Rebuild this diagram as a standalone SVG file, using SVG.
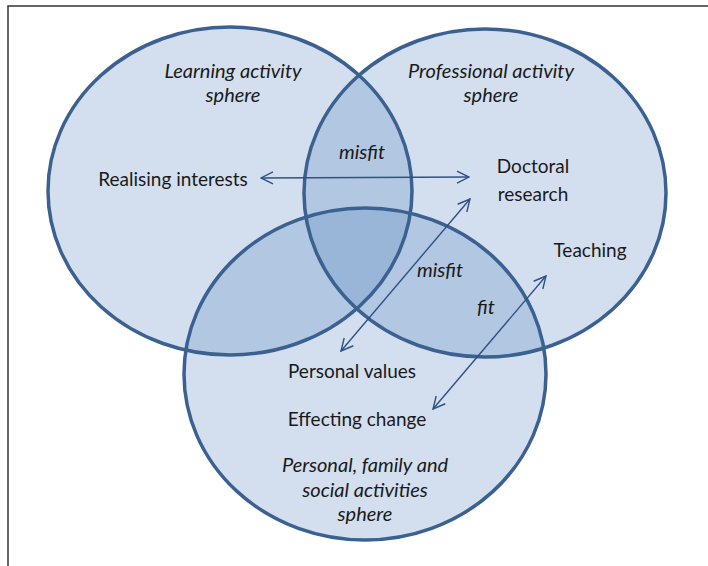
<svg xmlns="http://www.w3.org/2000/svg" width="708" height="566" viewBox="0 0 708 566">
<style>
.sph{fill:#4f81bd;fill-opacity:0.25;stroke:none}
.out{fill:none;stroke:#3b6190;stroke-width:3.5}
text{font-family:Lato,"Open Sans","Liberation Sans",sans-serif;font-size:19px;fill:#1a1a1a;text-anchor:middle}
.it{font-style:italic;font-size:20px}
.con{stroke:#2d5286;stroke-width:1.4;fill:none}
</style>
<defs>
<marker id="ah" viewBox="0 0 14 14" refX="13" refY="7" markerWidth="14" markerHeight="14" markerUnits="userSpaceOnUse" orient="auto-start-reverse">
<path d="M1,1 L13,7 L1,13" fill="none" stroke="#2d5286" stroke-width="1.4"/>
</marker>
</defs>
<rect width="708" height="566" fill="#fff"/>
<path d="M8,566 L8,6 L708,6" fill="none" stroke="#333" stroke-width="1.5"/>
<g id="fills">
<ellipse class="sph" cx="230" cy="191" rx="182" ry="164"/>
<ellipse class="sph" cx="485" cy="193" rx="181" ry="164"/>
<ellipse class="sph" cx="365" cy="374" rx="181" ry="166"/>
</g>
<g id="learning">
<ellipse class="out" cx="230" cy="191" rx="182" ry="164"/>
<text class="it" x="233" y="78">Learning activity</text>
<text class="it" x="233" y="102">sphere</text>
</g>
<g id="professional">
<ellipse class="out" cx="485" cy="193" rx="181" ry="164"/>
<text class="it" x="491" y="78">Professional activity</text>
<text class="it" x="491" y="102">sphere</text>
</g>
<g id="personal">
<ellipse class="out" cx="365" cy="374" rx="181" ry="166"/>
<text class="it" x="365" y="472">Personal, family and</text>
<text class="it" x="365" y="497">social activities</text>
<text class="it" x="365" y="521">sphere</text>
</g>
<g id="realising"><text x="173" y="186">Realising interests</text></g>
<g id="doctoral"><text x="533" y="173">Doctoral</text><text x="533" y="201">research</text></g>
<g id="teaching"><text x="590" y="257">Teaching</text></g>
<g id="values"><text x="352" y="378">Personal values</text></g>
<g id="change"><text x="357" y="426">Effecting change</text></g>
<g id="connectors">
<line class="con" x1="261" y1="178" x2="469" y2="177" marker-start="url(#ah)" marker-end="url(#ah)"/>
<line class="con" x1="341" y1="351" x2="470" y2="199" marker-start="url(#ah)" marker-end="url(#ah)"/>
<line class="con" x1="433" y1="409" x2="546" y2="276" marker-start="url(#ah)" marker-end="url(#ah)"/>
<text class="it" x="362" y="159">misfit</text>
<text class="it" x="440" y="277">misfit</text>
<text class="it" x="486" y="314">fit</text>
</g>
</svg>
